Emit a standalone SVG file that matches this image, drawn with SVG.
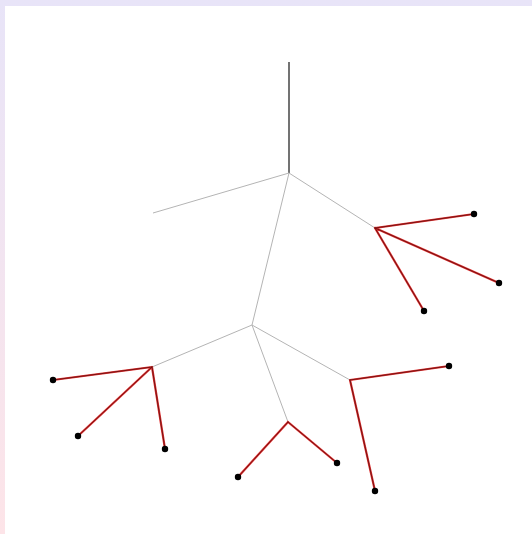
<svg xmlns="http://www.w3.org/2000/svg" width="532" height="534" viewBox="0 0 532 534">
<defs>
<linearGradient id="bg" x1="0" y1="0" x2="0" y2="1">
<stop offset="0" stop-color="#e8e4f8"/>
<stop offset="1" stop-color="#fde4e8"/>
</linearGradient>
<style>
.trunk{stroke:#444;stroke-width:1.5;fill:none}
.gray{stroke:#b4b4b4;stroke-width:1;fill:none}
.red{stroke:#e03030;stroke-width:2.2;fill:none;stroke-linecap:round}
.redc{stroke:#6a1010;stroke-width:0.9;fill:none;stroke-linecap:round}
.dot{fill:#000}
</style>
</defs>
<rect x="0" y="0" width="532" height="534" fill="url(#bg)"/>
<rect x="5" y="6" width="527" height="528" fill="#fff"/>
<g id="connectors">
<line class="trunk" x1="289" y1="62" x2="289" y2="173"/>
<line class="gray" x1="289" y1="173" x2="153" y2="213"/>
<line class="gray" x1="289" y1="173" x2="375" y2="228"/>
<line class="gray" x1="289" y1="173" x2="252" y2="325"/>
<line class="gray" x1="252" y1="325" x2="152" y2="367"/>
<line class="gray" x1="252" y1="325" x2="288" y2="422"/>
<line class="gray" x1="252" y1="325" x2="350" y2="380"/>
<g id="red-lines">
<path class="red" d="M375 228L474 214M375 228L499 283M375 228L424 311M152 367L53 380M152 367L78 436M152 367L165 449M288 422L238 477M288 422L337 463M350 380L449 366M350 380L375 491"/>
<path class="redc" d="M375 228L474 214M375 228L499 283M375 228L424 311M152 367L53 380M152 367L78 436M152 367L165 449M288 422L238 477M288 422L337 463M350 380L449 366M350 380L375 491"/>
</g>
</g>
<g id="leaf-a1"><circle class="dot" cx="474" cy="214" r="3.2"/></g>
<g id="leaf-a2"><circle class="dot" cx="499" cy="283" r="3.2"/></g>
<g id="leaf-a3"><circle class="dot" cx="424" cy="311" r="3.2"/></g>
<g id="leaf-b1"><circle class="dot" cx="53" cy="380" r="3.2"/></g>
<g id="leaf-b2"><circle class="dot" cx="78" cy="436" r="3.2"/></g>
<g id="leaf-b3"><circle class="dot" cx="165" cy="449" r="3.2"/></g>
<g id="leaf-c1"><circle class="dot" cx="238" cy="477" r="3.2"/></g>
<g id="leaf-c2"><circle class="dot" cx="337" cy="463" r="3.2"/></g>
<g id="leaf-d1"><circle class="dot" cx="449" cy="366" r="3.2"/></g>
<g id="leaf-d2"><circle class="dot" cx="375" cy="491" r="3.2"/></g>
</svg>
